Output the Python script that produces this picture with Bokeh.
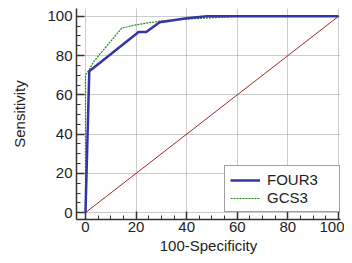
from bokeh.plotting import figure
from bokeh.models import FixedTicker, Legend, LegendItem, Range1d
from bokeh.embed import file_html
from bokeh.resources import INLINE

# data
four3_x = [0, 1.5, 21, 24, 29.3, 40, 48, 100]
four3_y = [0, 72, 92, 92, 97, 99, 100, 100]
gcs3_x = [0, 0, 1.5, 3.3, 14.3, 20, 29, 40, 60, 100]
gcs3_y = [0, 70, 73, 77, 94, 95.7, 97.5, 98.6, 100, 100]
diag_x = [0, 100]
diag_y = [0, 100]
ticks = [0, 20, 40, 60, 80, 100]
minor = [v for v in range(0, 101, 5) if v % 20 != 0]

p = figure(frame_width=264, frame_height=211, output_backend="svg", toolbar_location=None,
           x_range=Range1d(-3.55, 100.8), y_range=Range1d(-3.5, 104),
           min_border_left=76, min_border_right=4, min_border_top=8, min_border_bottom=0)
p.outline_line_color = None
p.background_fill_color = "white"

for ax in (p.xaxis[0], p.yaxis[0]):
    ax.ticker = FixedTicker(ticks=ticks, minor_ticks=minor)
    ax.axis_line_color = "#333333"
    ax.axis_line_width = 1.5
    ax.major_tick_line_color = "#333333"
    ax.major_tick_line_width = 1.5
    ax.minor_tick_line_color = "#333333"
    ax.minor_tick_line_width = 1
    ax.major_tick_in = 8
    ax.major_tick_out = 0
    ax.minor_tick_in = 4
    ax.minor_tick_out = 0
    ax.major_label_text_font = "Liberation Sans"
    ax.major_label_text_font_size = "15px"
    ax.major_label_text_color = "#222222"
    ax.axis_label_text_font = "Liberation Sans"
    ax.axis_label_text_font_size = "15px"
    ax.axis_label_text_font_style = "normal"
    ax.axis_label_text_color = "#222222"

p.xaxis.major_label_standoff = 2
p.xaxis.axis_label_standoff = 2
p.yaxis.major_label_standoff = 4
p.yaxis.axis_label_standoff = 16

p.xaxis.axis_label = "100-Specificity"
p.yaxis.axis_label = "Sensitivity"

for g in (p.xgrid[0], p.ygrid[0]):
    g.ticker = FixedTicker(ticks=ticks)
    g.grid_line_color = "#999999"
    g.grid_line_dash = "1 1"
    g.grid_line_width = 1

p.line(diag_x, diag_y, line_color="#a02828", line_width=1)
r_gcs = p.line(gcs3_x, gcs3_y, line_color="#1f8a1f", line_width=1.2, line_dash="2 1")
r_four = p.line(four3_x, four3_y, line_color="#3535a5", line_width=2.5)

legend = Legend(items=[LegendItem(label="FOUR3", renderers=[r_four]),
                       LegendItem(label="GCS3", renderers=[r_gcs])],
                location=(148, 7))
legend.label_text_font = "Liberation Sans"
legend.label_text_font_size = "15px"
legend.label_text_color = "#222222"
legend.border_line_color = "#404040"
legend.border_line_width = 1.5
legend.background_fill_alpha = 1
legend.padding = 5
legend.margin = 0
legend.spacing = 1
legend.label_height = 14
legend.glyph_height = 14
legend.glyph_width = 30
legend.label_standoff = 7
legend.label_width = 67
p.add_layout(legend)

open("out.html", "w").write(file_html(p, INLINE))
